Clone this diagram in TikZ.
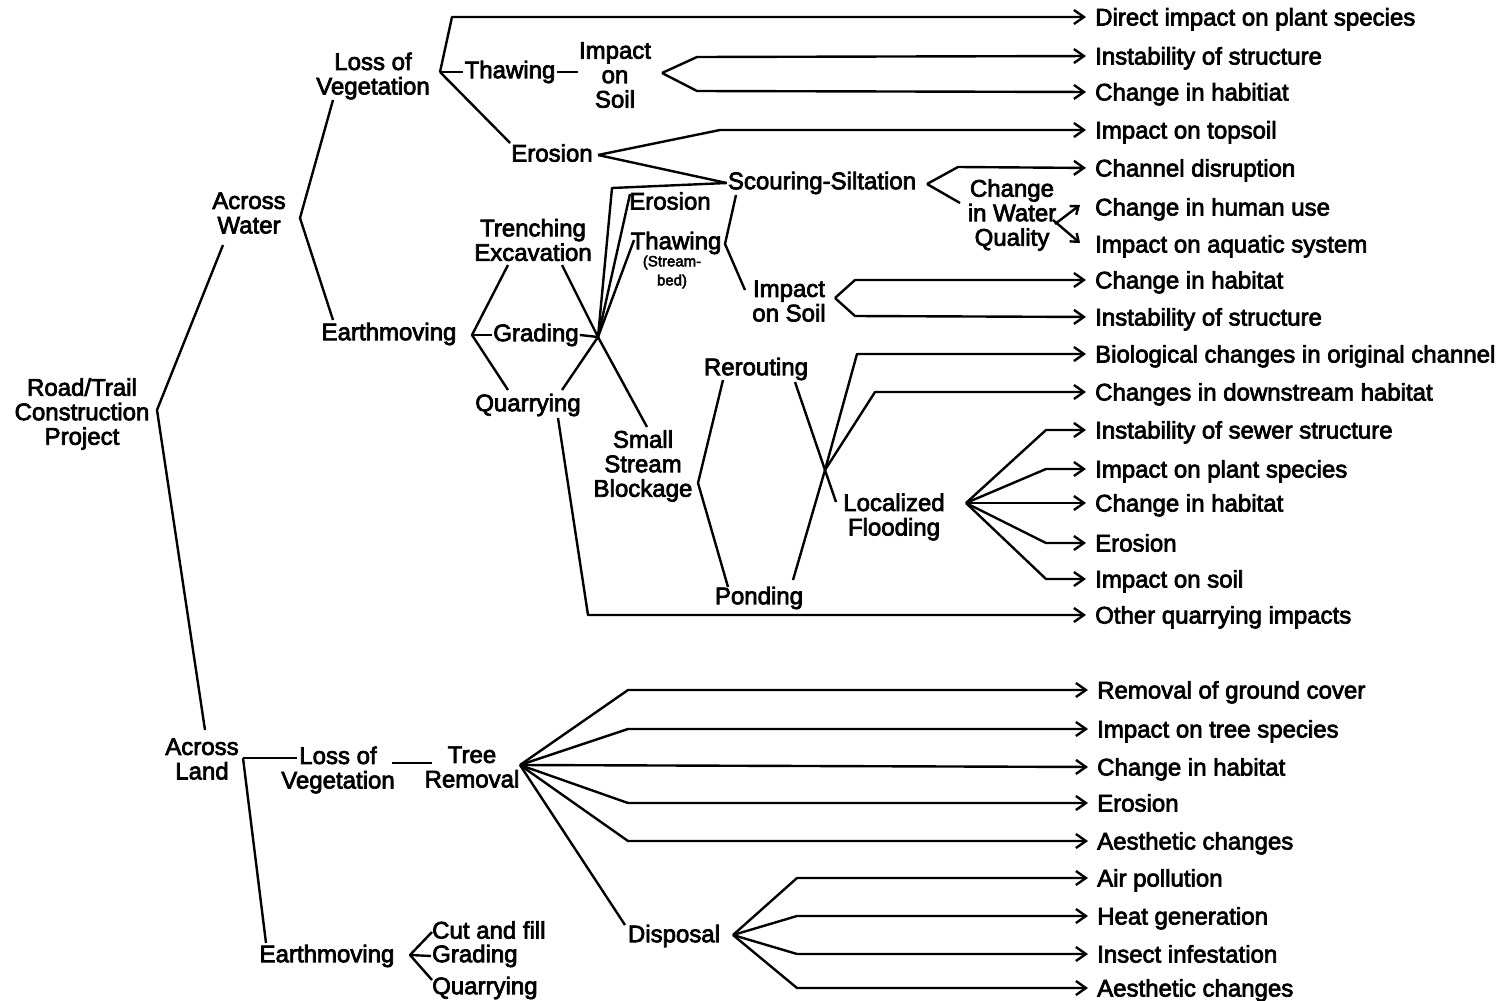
\documentclass[tikz,border=0pt]{standalone}
\usepackage{fontspec}
\setmainfont{Liberation Sans}
\newfontfamily\heavy{Liberation Sans}[RawFeature={embolden=3}]
\usetikzlibrary{arrows.meta}
\tikzset{
  ln/.style={line width=2.4pt, line join=round},
  arr/.style={ln, -{Straight Barb[length=10pt,width=14pt]}, shorten >=9pt},
  sarr/.style={ln, -{Straight Barb[length=7pt,width=11pt]}},
  lbl/.style={inner sep=1pt, align=center, font=\fontsize{24}{24.5}\selectfont\heavy},
  small/.style={inner sep=0pt, align=center, font=\fontsize{15}{19}\selectfont\heavy},
  tgt/.style={anchor=west, inner sep=0pt, text height=17pt, text depth=0pt, font=\fontsize{24}{24.5}\selectfont\heavy},
}
\begin{document}
\begin{tikzpicture}[x=1pt,y=-1pt]
\useasboundingbox[fill=white] (0,0) rectangle (1510,1001);

% ---------- labels ----------
\node[lbl] (root) at (82,414) {Road/Trail\\Construction\\Project};
\node[lbl] (aw) at (249,213) {Across\\Water};
\node[lbl] (al) at (202,759) {Across\\Land};
\node[lbl] (lv1) at (373,76) {Loss of\\Vegetation};
\node[lbl] (thaw1) at (510,72) {Thawing};
\node[lbl] (ios1) at (615,75) {Impact\\on\\Soil};
\node[lbl] (ero1) at (552,153) {Erosion};
\node[lbl] (scour) at (822,183) {Scouring-Siltation};
\node[lbl] (ero2) at (670,201) {Erosion};
\node[lbl] (thaw2) at (676,243) {Thawing};
\node[small] (sb) at (672,272) {(Stream-\\bed)};
\node[lbl] (ios2) at (789,301) {Impact\\on Soil};
\node[lbl] (cwq) at (1012,215) {Change\\in Water\\Quality};
\node[lbl] (em1) at (389,334) {Earthmoving};
\node[lbl] (trench) at (533,240) {Trenching\\Excavation};
\node[lbl] (grad1) at (536,335) {Grading};
\node[lbl] (quarry1) at (528,405) {Quarrying};
\node[lbl] (ssb) at (643,466) {Small\\Stream\\Blockage};
\node[lbl] (rer) at (756,369) {Rerouting};
\node[lbl] (pond) at (759,598) {Ponding};
\node[lbl] (lf) at (894,517) {Localized\\Flooding};
\node[lbl] (lv2) at (338,770) {Loss of\\Vegetation};
\node[lbl] (tree) at (472,767) {Tree\\Removal};
\node[lbl] (disp) at (674,936) {Disposal};
\node[lbl] (em2) at (327,956) {Earthmoving};
\node[lbl, anchor=west] (cut) at (431,930) {Cut and fill};
\node[lbl, anchor=west] (grad2) at (431,956) {Grading};
\node[lbl, anchor=west] (quarry2) at (431,988) {Quarrying};

% ---------- targets ----------
\node[tgt] (t1) at (1095,17) {Direct impact on plant species};
\node[tgt] (t2) at (1095,56) {Instability of structure};
\node[tgt] (t3) at (1095,92) {Change in habitiat};
\node[tgt] (t4) at (1095,130) {Impact on topsoil};
\node[tgt] (t5) at (1095,168) {Channel disruption};
\node[tgt] (t6) at (1095,207) {Change in human use};
\node[tgt] (t7) at (1095,244) {Impact on aquatic system};
\node[tgt] (t8) at (1095,280) {Change in habitat};
\node[tgt] (t9) at (1095,317) {Instability of structure};
\node[tgt] (t10) at (1095,354) {Biological changes in original channel};
\node[tgt] (t11) at (1095,392) {Changes in downstream habitat};
\node[tgt] (t12) at (1095,430) {Instability of sewer structure};
\node[tgt] (t13) at (1095,469) {Impact on plant species};
\node[tgt] (t14) at (1095,503) {Change in habitat};
\node[tgt] (t15) at (1095,543) {Erosion};
\node[tgt] (t16) at (1095,579) {Impact on soil};
\node[tgt] (t17) at (1095,615) {Other quarrying impacts};
\node[tgt] (t18) at (1097,690) {Removal of ground cover};
\node[tgt] (t19) at (1097,729) {Impact on tree species};
\node[tgt] (t20) at (1097,767) {Change in habitat};
\node[tgt] (t21) at (1097,803) {Erosion};
\node[tgt] (t22) at (1097,841) {Aesthetic changes};
\node[tgt] (t23) at (1097,878) {Air pollution};
\node[tgt] (t24) at (1097,916) {Heat generation};
\node[tgt] (t25) at (1097,954) {Insect infestation};
\node[tgt] (t26) at (1097,988) {Aesthetic changes};

% ---------- junction coordinates ----------
\coordinate (vroot) at (157,410);
\coordinate (aw-in) at (223,245);
\coordinate (al-in) at (205,730);
\coordinate (vaw) at (300,218);
\coordinate (lv1-in) at (333,100);
\coordinate (em1-in) at (333,320);
\coordinate (vlv1) at (440,72);
\coordinate (vios1) at (662,73);
\coordinate (vero1) at (598,155);
\coordinate (vem1) at (472,335);
\coordinate (hub) at (598,337);
\coordinate (vthaw2) at (725,244);
\coordinate (vios2) at (835,298);
\coordinate (vscour) at (927,184);
\coordinate (vssb) at (698,483);
\coordinate (cross) at (825,470);
\coordinate (vlf) at (966,503);
\coordinate (val) at (243,758);
\coordinate (vtree) at (520,765);
\coordinate (vdisp) at (733,935);
\coordinate (vem2) at (410,955);

% ---------- connectors ----------
% root
\draw[ln] (aw-in) -- (vroot) -- (al-in);
% across water
\draw[ln] (lv1-in) -- (vaw) -- (em1-in);
% loss of vegetation (water)
\draw[arr] (vlv1) -- (452,17) -- (t1.west);
\draw[ln] (vlv1) -- (thaw1.west);
\draw[ln] (vlv1) -- (ero1.north west);
\draw[ln] (thaw1.east) -- (ios1.west |- thaw1.east);
% impact on soil 1
\draw[arr] (vios1) -- (697,57) -- (t2.west);
\draw[arr] (vios1) -- (697,91) -- (t3.west);
% erosion 1
\draw[arr] (vero1) -- (720,130) -- (t4.west);
\draw[ln] (vero1) -- (scour.west);
% earthmoving (water)
\draw[ln] (508,265) -- (vem1) -- (508,390);
\draw[ln] (vem1) -- (grad1.west);
\draw[ln] (grad1.east) -- (hub);
\draw[ln] (562,265) -- (hub) -- (647,427);
\draw[ln] (562,390) -- (hub);
\draw[ln] (hub) -- (612,188) -- (scour.west);
\draw[ln] (hub) -- (630,194);
\draw[ln] (hub) -- (634,240);
% thawing streambed
\draw[ln] (736,195) -- (vthaw2) -- (745,290);
% impact on soil 2
\draw[arr] (vios2) -- (855,280) -- (t8.west);
\draw[arr] (vios2) -- (855,316) -- (t9.west);
% scouring-siltation
\draw[arr] (vscour) -- (958,167) -- (t5.west);
\draw[ln] (vscour) -- (960,203);
% change in water quality
\draw[sarr] (1055,224) -- (1080,205);
\draw[sarr] (1053,220) -- (1080,243);
% quarrying (water)
\draw[arr] (558,418) -- (588,615) -- (t17.west);
% small stream blockage
\draw[ln] (723,380) -- (vssb) -- (728,587);
% rerouting / ponding
\draw[ln] (795,382) -- (cross) -- (836,502);
\draw[arr] (793,580) -- (cross) -- (857,354) -- (t10.west);
\draw[arr] (cross) -- (875,392) -- (t11.west);
% localized flooding
\draw[arr] (vlf) -- (1046,430) -- (t12.west);
\draw[arr] (vlf) -- (1046,469) -- (t13.west);
\draw[arr] (vlf) -- (t14.west);
\draw[arr] (vlf) -- (1046,543) -- (t15.west);
\draw[arr] (vlf) -- (1046,579) -- (t16.west);
% across land
\draw[ln] (val) -- (297,758);
\draw[ln] (val) -- (266,943);
\draw[ln] (392,763) -- (432,763);
% tree removal
\draw[arr] (vtree) -- (628,690) -- (t18.west);
\draw[arr] (vtree) -- (628,729) -- (t19.west);
\draw[arr] (vtree) -- (t20.west);
\draw[arr] (vtree) -- (628,803) -- (t21.west);
\draw[arr] (vtree) -- (628,841) -- (t22.west);
\draw[ln] (vtree) -- (625,925);
% disposal
\draw[arr] (vdisp) -- (797,878) -- (t23.west);
\draw[arr] (vdisp) -- (797,916) -- (t24.west);
\draw[arr] (vdisp) -- (797,954) -- (t25.west);
\draw[arr] (vdisp) -- (797,988) -- (t26.west);
% earthmoving (land)
\draw[ln] (432,932) -- (vem2) -- (432,980);
\draw[ln] (vem2) -- (431,956);
\end{tikzpicture}
\end{document}
